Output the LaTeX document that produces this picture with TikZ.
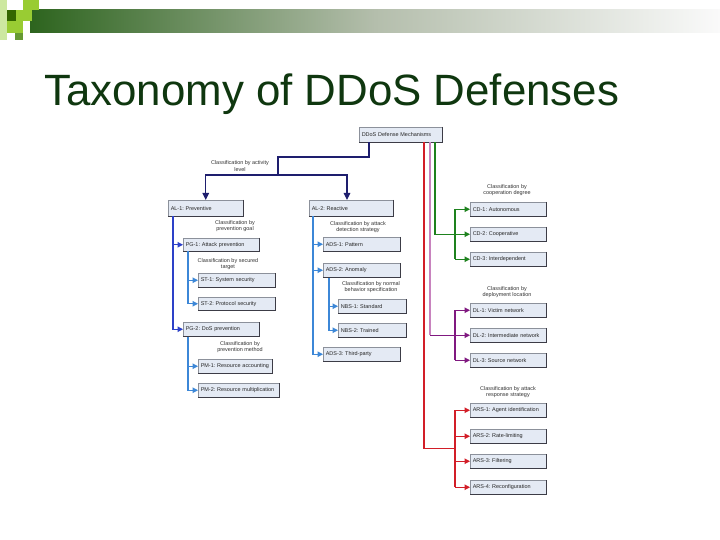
\documentclass[tikz,border=0pt]{standalone}
\usepackage{fontspec}
\setmainfont{Liberation Sans}
\usetikzlibrary{arrows.meta}
\definecolor{cnavy}{RGB}{30,30,110}
\definecolor{cblue}{RGB}{45,65,200}
\definecolor{clblue}{RGB}{60,135,215}
\definecolor{cgreen}{RGB}{30,130,30}
\definecolor{cpurple}{RGB}{128,25,128}
\definecolor{cpink}{RGB}{200,130,190}
\definecolor{cred}{RGB}{210,30,40}
\definecolor{boxfill}{RGB}{228,234,244}
\definecolor{boxline}{RGB}{140,145,155}
\definecolor{edgec}{RGB}{60,60,70}
\definecolor{ctitle}{RGB}{15,55,15}
\definecolor{sqlight}{RGB}{153,204,51}
\definecolor{sqdark}{RGB}{51,102,0}
\definecolor{sqmid}{RGB}{102,153,51}
\definecolor{sqpale}{RGB}{205,232,160}
\frenchspacing
\tikzset{
  dbox/.style={draw=boxline, fill=boxfill, line width=0.5bp, inner xsep=2.5bp, inner ysep=0pt,
    font=\fontsize{5.5}{6.5}\selectfont, text=black!85, align=left},
  boxedge/.style={draw=edgec, line width=1bp},
  lab/.style={font=\fontsize{5.5}{6.6}\selectfont, align=center, text=black!80, inner sep=0pt},
  conn/.style={line width=1.1bp},
  tip/.style={-{Triangle[length=5.5bp,width=5.5bp]}},
  tipL/.style={-{Triangle[length=7bp,width=6.5bp]}},
}
\newcommand\mkbox[6]{%
  \pgfmathsetmacro\dtw{#4-#2-5}\pgfmathsetmacro\dbh{#5-#3}%
  \node[dbox,text width=\dtw bp,minimum height=\dbh bp,anchor=north west] (#1) at (#2,#3) {\mbox{#6}};
  \draw[boxedge] (#1.north east) -- (#1.south east) -- (#1.south west);}
\begin{document}
\begin{tikzpicture}[x=1bp,y=-1bp]
\useasboundingbox (0,0) rectangle (720,540);
\fill[white] (0,0) rectangle (720,540);
% top decoration
\shade[left color={rgb,255:red,45;green,100;blue,30}, right color={rgb,255:red,250;green,250;blue,250},
  middle color={rgb,255:red,180;green,190;blue,172}] (30,10) rectangle (720,33);
\fill[sqpale] (0,0) rectangle (7,40);
\fill[sqlight] (23,0) rectangle (39,10);
\fill[sqdark] (7,10) rectangle (16,21);
\fill[sqlight] (16,10) rectangle (32,21);
\fill[sqlight] (7,21) rectangle (23,33);
\fill[sqmid] (15,33) rectangle (23,40);
% title
\node[anchor=base west, font=\fontsize{44}{50}\selectfont, text=ctitle, inner sep=0pt] (title) at (44,106) {Taxonomy of DDoS Defenses};
% boxes
\mkbox{root}{359}{127}{442}{142}{DDoS Defense Mechanisms}
\mkbox{AL1}{168}{200}{243}{216}{AL-1: Preventive}
\mkbox{AL2}{309}{200}{393}{216}{AL-2: Reactive}
\mkbox{PG1}{183}{238}{259}{251}{PG-1: Attack prevention}
\mkbox{ST1}{198}{273}{275}{287}{ST-1: System security}
\mkbox{ST2}{198}{297}{275}{310}{ST-2: Protocol security}
\mkbox{PG2}{183}{322}{259}{336}{PG-2: DoS prevention}
\mkbox{PM1}{198}{359}{272}{373}{PM-1: Resource accounting}
\mkbox{PM2}{198}{383}{279}{397}{PM-2: Resource multiplication}
\mkbox{ADS1}{323}{237}{400}{251}{ADS-1: Pattern}
\mkbox{ADS2}{323}{263}{400}{277}{ADS-2: Anomaly}
\mkbox{NBS1}{338}{299}{406}{313}{NBS-1: Standard}
\mkbox{NBS2}{338}{323}{406}{337}{NBS-2: Trained}
\mkbox{ADS3}{323}{347}{400}{361}{ADS-3: Third-party}
\mkbox{CD1}{470}{202}{546}{216}{CD-1: Autonomous}
\mkbox{CD2}{470}{227}{546}{241}{CD-2: Cooperative}
\mkbox{CD3}{470}{252}{546}{266}{CD-3: Interdependent}
\mkbox{DL1}{470}{303}{546}{317}{DL-1: Victim network}
\mkbox{DL2}{470}{328}{546}{342}{DL-2: Intermediate network}
\mkbox{DL3}{470}{353}{546}{367}{DL-3: Source network}
\mkbox{ARS1}{470}{403}{546}{417}{ARS-1: Agent identification}
\mkbox{ARS2}{470}{429}{546}{443}{ARS-2: Rate-limiting}
\mkbox{ARS3}{470}{454}{546}{468}{ARS-3: Filtering}
\mkbox{ARS4}{470}{480}{546}{494}{ARS-4: Reconfiguration}
% labels
\node[lab] (l1) at (240,166) {Classification by activity\\level};
\node[lab] (l2) at (235,226) {Classification by\\prevention goal};
\node[lab] (l3) at (228,264) {Classification by secured\\target};
\node[lab] (l4) at (240,347) {Classification by\\prevention method};
\node[lab] (l5) at (358,227) {Classification by attack\\detection strategy};
\node[lab] (l6) at (371,287) {Classification by normal\\behavior specification};
\node[lab] (l7) at (507,190) {Classification by\\cooperation degree};
\node[lab] (l8) at (507,292) {Classification by\\deployment location};
\node[lab] (l9) at (508,392) {Classification by attack\\response strategy};
% navy top connectors
\coordinate (jA) at (369,157);
\coordinate (jB) at (278,175);
\coordinate (jC) at (347,175);
\draw[conn,cnavy] (root.south -| jA) -- (jA) -- (jA -| jB) -- (jB);
\draw[conn,cnavy,tipL] (jB) -| (AL1.north);
\draw[conn,cnavy,tipL] (jB) -- (jC) -- (AL2.north -| jC);
% left column
\coordinate (b1) at (173,0);
\coordinate (b2) at (188,0);
\draw[conn,cblue,tip] (AL1.south -| b1) |- (PG2.west);
\draw[conn,cblue,tip] (PG1.west -| b1) -- (PG1.west);
\draw[conn,clblue,tip] (PG1.south -| b2) |- (ST2.west);
\draw[conn,clblue,tip] (ST1.west -| b2) -- (ST1.west);
\draw[conn,clblue,tip] (PG2.south -| b2) |- (PM2.west);
\draw[conn,clblue,tip] (PM1.west -| b2) -- (PM1.west);
% middle column
\coordinate (b3) at (313,0);
\coordinate (b4) at (329,0);
\draw[conn,clblue,tip] (AL2.south -| b3) |- (ADS3.west);
\draw[conn,clblue,tip] (ADS1.west -| b3) -- (ADS1.west);
\draw[conn,clblue,tip] (ADS2.west -| b3) -- (ADS2.west);
\draw[conn,clblue,tip] (ADS2.south -| b4) |- (NBS2.west);
\draw[conn,clblue,tip] (NBS1.west -| b4) -- (NBS1.west);
% right column
\coordinate (gx) at (455,0);
\coordinate (g1) at (435,0);
\coordinate (p1) at (430,0);
\coordinate (r1) at (424,0);
\coordinate (rm) at (455,448.5);
\draw[conn,cgreen] (root.south -| g1) |- (CD2.west -| gx);
\draw[conn,cgreen] (CD1.west -| gx) -- (CD3.west -| gx);
\foreach \n in {CD1,CD2,CD3} \draw[conn,cgreen,tip] (\n.west -| gx) -- (\n.west);
\draw[conn,cpink] (root.south -| p1) -- (DL2.west -| p1);
\draw[conn,cpurple] (DL2.west -| p1) -- (DL2.west -| gx);
\draw[conn,cpurple] (DL1.west -| gx) -- (DL3.west -| gx);
\foreach \n in {DL1,DL2,DL3} \draw[conn,cpurple,tip] (\n.west -| gx) -- (\n.west);
\draw[conn,cred] (root.south -| r1) |- (rm);
\draw[conn,cred] (ARS1.west -| gx) -- (ARS4.west -| gx);
\foreach \n in {ARS1,ARS2,ARS3,ARS4} \draw[conn,cred,tip] (\n.west -| gx) -- (\n.west);
\end{tikzpicture}
\end{document}
